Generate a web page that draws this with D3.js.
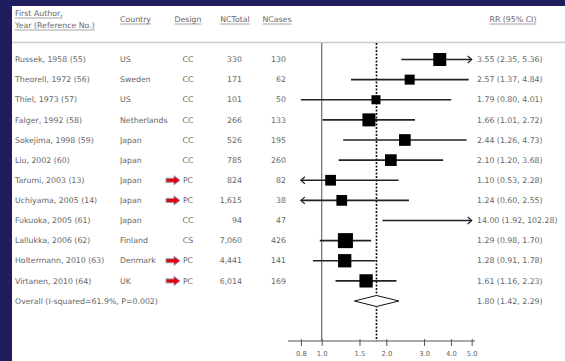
<!DOCTYPE html>
<html>
<head>
<meta charset="utf-8">
<script src="https://cdn.jsdelivr.net/npm/d3@7"></script>
<style>
  html, body { margin: 0; padding: 0; background: #201d5f; }
  svg { display: block; }
  text { font-family: "DejaVu Sans", Verdana, sans-serif; }
</style>
</head>
<body>
<div id="chart"></div>
<script>
// study rows
const authors = [
  'Russek, 1958 (55)', 'Theorell, 1972 (56)', 'Thiel, 1973 (57)', 'Falger, 1992 (58)',
  'Sokejima, 1998 (59)', 'Liu, 2002 (60)', 'Tarumi, 2003 (13)', 'Uchiyama, 2005 (14)',
  'Fukuoka, 2005 (61)', 'Lallukka, 2006 (62)', 'Holtermann, 2010 (63)', 'Virtanen, 2010 (64)'
];
const countries = ['US', 'Sweden', 'US', 'Netherlands', 'Japan', 'Japan', 'Japan', 'Japan',
  'Japan', 'Finland', 'Denmark', 'UK'];
const designs = ['CC', 'CC', 'CC', 'CC', 'CC', 'CC', 'PC', 'PC', 'CC', 'CS', 'PC', 'PC'];
const ncTotal = ['330', '171', '101', '266', '526', '785', '824', '1,615', '94', '7,060', '4,441', '6,014'];
const ncCases = ['130', '62', '50', '133', '195', '260', '82', '38', '47', '426', '141', '169'];
const rr = [3.55, 2.57, 1.79, 1.66, 2.44, 2.10, 1.10, 1.24, 14.00, 1.29, 1.28, 1.61];
const lower = [2.35, 1.37, 0.80, 1.01, 1.26, 1.20, 0.53, 0.60, 1.92, 0.98, 0.91, 1.16];
const upper = [5.36, 4.84, 4.01, 2.72, 4.73, 3.68, 2.28, 2.55, 102.28, 1.70, 1.78, 2.23];
const weights = [10.1, 6.0, 4.9, 10.1, 8.2, 8.2, 6.9, 6.9, 1.2, 13.5, 10.6, 10.6];

// pooled estimate
const overallLabel = 'Overall (I-squared=61.9%, P=0.002)';
const overall = [1.80, 1.42, 2.29];

const xTicks = [0.8, 1.0, 1.5, 2.0, 3.0, 4.0, 5.0];
const headers = [
  {text: ['First Author,', 'Year (Reference No.)'], x: 15, anchor: 'start'},
  {text: ['Country'], x: 120, anchor: 'start'},
  {text: ['Design'], x: 188, anchor: 'middle'},
  {text: ['NCTotal'], x: 235, anchor: 'middle'},
  {text: ['NCases'], x: 277, anchor: 'middle'},
  {text: ['RR (95% CI)'], x: 513, anchor: 'middle'}
];

const width = 565, height = 361;
const txtColor = '#666';
const fs = 7.8;
const fmt = d3.format('.2f');

const svg = d3.select('#chart').append('svg')
  .attr('width', width)
  .attr('height', height);

// white panel
svg.append('rect')
  .attr('x', 12).attr('y', 6)
  .attr('width', width - 12).attr('height', height - 6)
  .attr('fill', '#fff');

const x = d3.scaleLog().domain([0.8, 5]).range([300.9, 471.7]);
const y = d3.scaleLinear().domain([0, 12]).range([59.5, 301]);
const boxSize = d3.scaleSqrt().domain([0, 13.5]).range([0, 15]);
const axisY = 341;

// headers
headers.forEach(h => {
  const n = h.text.length;
  h.text.forEach((t, i) => {
    const ty = n === 1 ? 22 : 16 + i * 12;
    const el = svg.append('text')
      .attr('x', h.x).attr('y', ty)
      .attr('text-anchor', h.anchor)
      .attr('font-size', fs)
      .attr('fill', txtColor)
      .text(t);
    const w = el.node().getComputedTextLength();
    const x0 = h.anchor === 'middle' ? h.x - w / 2 : h.x;
    svg.append('line')
      .attr('x1', x0).attr('x2', x0 + w)
      .attr('y1', ty + 2).attr('y2', ty + 2)
      .attr('stroke', txtColor).attr('stroke-width', 0.6);
  });
});

svg.append('line')
  .attr('x1', 12).attr('x2', width)
  .attr('y1', 42.5).attr('y2', 42.5)
  .attr('stroke', '#ccc').attr('stroke-width', 1.5);

// reference lines
svg.append('line')
  .attr('x1', x(1)).attr('x2', x(1))
  .attr('y1', 43).attr('y2', axisY)
  .attr('stroke', '#777').attr('stroke-width', 1.3);
svg.append('line')
  .attr('x1', x(overall[0])).attr('x2', x(overall[0]))
  .attr('y1', 43).attr('y2', axisY)
  .attr('stroke', '#111').attr('stroke-width', 1.6)
  .attr('stroke-dasharray', '2,1.5');

// table columns
const rows = d3.range(authors.length);
const cols = [
  {vals: authors, x: 15, anchor: 'start'},
  {vals: countries, x: 120, anchor: 'start'},
  {vals: designs, x: 188, anchor: 'middle'},
  {vals: ncTotal, x: 242, anchor: 'end'},
  {vals: ncCases, x: 286, anchor: 'end'},
  {vals: rows.map(i => `${fmt(rr[i])} (${fmt(lower[i])}, ${fmt(upper[i])})`), x: 477, anchor: 'start'}
];
cols.forEach(c => {
  svg.append('g').selectAll('text')
    .data(c.vals)
    .join('text')
      .attr('x', c.x)
      .attr('y', (d, i) => y(i))
      .attr('dy', '0.35em')
      .attr('text-anchor', c.anchor)
      .attr('font-size', fs)
      .attr('fill', txtColor)
      .text(d => d);
});

// overall row text
svg.append('text')
  .attr('x', 15).attr('y', y(12)).attr('dy', '0.35em')
  .attr('font-size', fs).attr('fill', txtColor)
  .text(overallLabel);
svg.append('text')
  .attr('x', 477).attr('y', y(12)).attr('dy', '0.35em')
  .attr('font-size', fs).attr('fill', txtColor)
  .text(`${fmt(overall[0])} (${fmt(overall[1])}, ${fmt(overall[2])})`);

// red arrows marking prospective cohorts
const pcRows = rows.filter(i => designs[i] === 'PC');
svg.append('g').selectAll('path')
  .data(pcRows)
  .join('path')
    .attr('transform', i => `translate(166,${y(i)})`)
    .attr('d', 'M0,-2 L8,-2 L8,-4.5 L14,0 L8,4.5 L8,2 L0,2 Z')
    .attr('fill', '#e8000b')
    .attr('stroke', '#8a9bb0')
    .attr('stroke-width', 1);

// confidence intervals
const [dMin, dMax] = x.domain();
const ci = svg.append('g');
rows.forEach(i => {
  const lo = Math.max(lower[i], dMin), hi = Math.min(upper[i], dMax);
  const cy = y(i);
  ci.append('line')
    .attr('x1', x(lo)).attr('x2', x(hi))
    .attr('y1', cy).attr('y2', cy)
    .attr('stroke', '#222').attr('stroke-width', 1.6);
  if (upper[i] > dMax) {
    ci.append('path')
      .attr('d', `M${x(hi) - 4},${cy - 3.5} L${x(hi)},${cy} L${x(hi) - 4},${cy + 3.5}`)
      .attr('fill', 'none').attr('stroke', '#222').attr('stroke-width', 1.2);
  }
  if (lower[i] < dMin) {
    ci.append('path')
      .attr('d', `M${x(lo) + 4},${cy - 3.5} L${x(lo)},${cy} L${x(lo) + 4},${cy + 3.5}`)
      .attr('fill', 'none').attr('stroke', '#222').attr('stroke-width', 1.2);
  }
  if (rr[i] <= dMax) {
    const s = boxSize(weights[i]);
    ci.append('rect')
      .attr('x', x(rr[i]) - s / 2).attr('y', cy - s / 2)
      .attr('width', s).attr('height', s)
      .attr('fill', '#000');
  }
});

// pooled diamond
const oy = y(12);
svg.append('path')
  .attr('d', `M${x(overall[1])},${oy} L${x(overall[0])},${oy - 5.5} L${x(overall[2])},${oy} L${x(overall[0])},${oy + 5.5} Z`)
  .attr('fill', '#fff').attr('stroke', '#111').attr('stroke-width', 1);

// axis
const axis = svg.append('g')
  .attr('transform', `translate(0,${axisY})`)
  .call(d3.axisBottom(x).tickValues(xTicks).tickFormat(d3.format('.1f')).tickSize(5).tickSizeOuter(0));
axis.select('.domain').remove();
axis.append('line')
  .attr('x1', 288).attr('x2', 475)
  .attr('stroke', '#555').attr('stroke-width', 1.2);
axis.selectAll('.tick line').attr('stroke', '#555').attr('y1', -2);
axis.selectAll('.tick text')
  .attr('font-size', 6.8)
  .attr('fill', txtColor)
  .attr('y', 10)
  .style('font-family', '"DejaVu Sans", Verdana, sans-serif');
</script>
</body>
</html>
